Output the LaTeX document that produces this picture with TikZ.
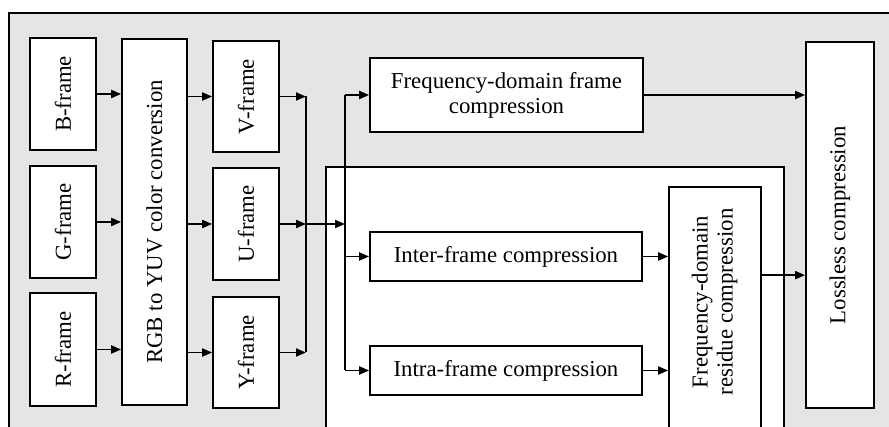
\documentclass[tikz,border=0pt]{standalone}
\usepackage{fontspec}
\setmainfont{Liberation Serif}
\usetikzlibrary{arrows.meta,calc}
\definecolor{panel}{gray}{0.9}

\begin{document}
\begin{tikzpicture}[x=1pt,y=-1pt,
    box/.style={draw,fill=white,line width=1.7pt,inner sep=0pt,
      font=\fontsize{22.8}{25}\selectfont,align=center},
    lbl/.style={inner sep=0pt,font=\fontsize{22.8}{25}\selectfont},
    arr/.style={-{Triangle[length=10pt,width=8pt]},line width=1.9pt},
    ln/.style={line width=1.7pt}]
  \useasboundingbox (0,0) rectangle (889,427);
  \clip (0,0) rectangle (889,427);
  \draw[ln,fill=panel] (9,13) rectangle (905,445);
  \draw[ln,fill=white] (326,167) rectangle (784,445);
  % input frames
  \node[box,minimum width=66pt,minimum height=112pt] (bfr) at (63,94) {\rotatebox{90}{B-frame}};
  \node[box,minimum width=66pt,minimum height=112pt] (gfr) at (63,222) {\rotatebox{90}{G-frame}};
  \node[box,minimum width=66pt,minimum height=113pt] (rfr) at (63,349.5) {\rotatebox{90}{R-frame}};
  \node[box,minimum width=65pt,minimum height=366pt] (rgb) at (154.5,222) {\rotatebox{90}{RGB to YUV color conversion}};
  \node[box,minimum width=66pt,minimum height=111pt] (vfr) at (246,96.5) {\rotatebox{90}{V-frame}};
  \node[box,minimum width=66pt,minimum height=112pt] (ufr) at (246,224) {\rotatebox{90}{U-frame}};
  \node[box,minimum width=66pt,minimum height=111pt] (yfr) at (246,352.5) {\rotatebox{90}{Y-frame}};
  % compression stages
  \node[box,minimum width=273pt,minimum height=74pt] (fdf) at (506.5,95) {Frequency-domain frame\\compression};
  \node[box,minimum width=272pt,minimum height=49pt] (inter) at (506,256.5) {Inter-frame compression};
  \node[box,minimum width=272pt,minimum height=49pt] (intra) at (506,370.5) {Intra-frame compression};
  \node[box,minimum width=92pt,minimum height=258pt] (res) at (715,316) {};
  \node[lbl] (reslbl) at (715,302) {\rotatebox{90}{\begin{tabular}{@{}c@{}}Frequency-domain\\residue compression\end{tabular}}};
  \node[box,minimum width=68pt,minimum height=366pt] (lossless) at (840,225) {\rotatebox{90}{Lossless compression}};
  % junctions
  \coordinate (ju) at (306,224);
  \coordinate (bus) at (345,224);
  \coordinate (resout) at ([yshift=-89pt]res.north east);
  % connectors
  \foreach \src in {bfr,gfr,rfr}
    \draw[arr] (\src.east) -- (\src.east -| rgb.west);
  \foreach \dst in {vfr,ufr,yfr}
    \draw[arr] (\dst.west -| rgb.east) -- (\dst.west);
  \foreach \src in {vfr,ufr,yfr}
    \draw[arr] (\src.east) -- (\src.east -| ju);
  \draw[ln] (vfr.east -| ju) -- (yfr.east -| ju);
  \draw[arr] (ju) -- (bus);
  \draw[ln] (fdf.west -| bus) -- (intra.west -| bus);
  \foreach \dst in {fdf,inter,intra}
    \draw[arr] (\dst.west -| bus) -- (\dst.west);
  \draw[arr] (inter.east) -- (inter.east -| res.west);
  \draw[arr] (intra.east) -- (intra.east -| res.west);
  \draw[arr] (fdf.east) -- (fdf.east -| lossless.west);
  \draw[arr] (resout) -- (resout -| lossless.west);
\end{tikzpicture}
\end{document}
